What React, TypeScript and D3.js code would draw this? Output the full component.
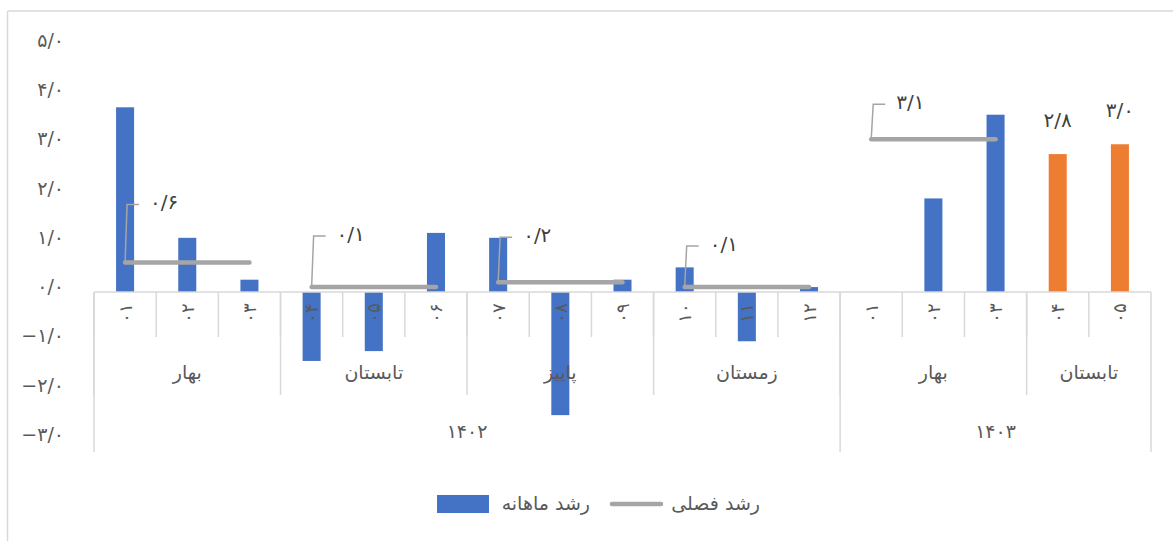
import * as d3 from 'd3';

// monthly growth (percent), one bar per month
const MONTHS = ['۰۱', '۰۲', '۰۳', '۰۴', '۰۵', '۰۶', '۰۷', '۰۸', '۰۹', '۱۰', '۱۱', '۱۲', '۰۱', '۰۲', '۰۳', '۰۴', '۰۵'];
const MONTHLY = [3.75, 1.1, 0.25, -1.4, -1.2, 1.2, 1.1, -2.5, 0.25, 0.5, -1.0, 0.1, 0, 1.9, 3.6, 2.8, 3.0];
// months that are highlighted (orange) and labelled
const HIGHLIGHT = [15, 16];

// seasons: name, number of months, seasonal growth (null = no line)
const SEASONS = ['بهار', 'تابستان', 'پاییز', 'زمستان', 'بهار', 'تابستان'];
const SEASON_MONTHS = [3, 3, 3, 3, 3, 2];
const SEASONAL = [0.6, 0.1, 0.2, 0.1, 3.1, null];

const YEARS = ['۱۴۰۲', '۱۴۰۳'];
const YEAR_MONTHS = [12, 5];

const Y_TICKS = [5, 4, 3, 2, 1, 0, -1, -2, -3];

const BLUE = '#4472C4';
const ORANGE = '#ED7D31';
const GRAY = '#A5A5A5';
const AXIS = '#D9D9D9';
const TEXT = '#595959';
const FONT = '"DejaVu Sans", sans-serif';

// how far the seasonal label callouts are lifted above the line (px)
const LABEL_LIFT = [58, 51, 45, 41, 35];

const W = 1173;
const H = 541;

const fa = (v: number) => {
  const s = d3.format('.1f')(Math.abs(v)).replace('.', '/');
  const digits = s.replace(/[0-9]/g, (c) => '۰۱۲۳۴۵۶۷۸۹'[+c]);
  return (v < 0 ? '−' : '') + digits;
};

export default function App() {
  const x = d3
    .scaleBand<number>()
    .domain(MONTHS.map((_, i) => i))
    .range([94, 1151])
    .padding(0);
  const y = d3.scaleLinear().domain([-3, 5]).range([439.75, 45.75]);
  const step = x.step();
  const barW = step * 0.29;
  const cx = (i: number) => (x(i) as number) + step / 2;
  const y0 = y(0);

  // season / year start indices
  const seasonStart = SEASON_MONTHS.map((_, i) => d3.sum(SEASON_MONTHS.slice(0, i)));
  const yearStart = YEAR_MONTHS.map((_, i) => d3.sum(YEAR_MONTHS.slice(0, i)));

  const axisRow1 = y0 + 45;
  const axisRow2 = y0 + 103;
  const axisRow3 = y0 + 160;
  const xEnd = x.range()[1];

  return (
    <div style={{ position: 'absolute', left: 0, top: 0 }}>
      <svg width={W} height={H} style={{ display: 'block', background: '#fff' }} fontFamily={FONT}>
        {/* chart frame */}
        <line x1={7.5} y1={11} x2={7.5} y2={H} stroke={AXIS} strokeWidth={1.5} />
        <line x1={7.5} y1={11} x2={W} y2={11} stroke={AXIS} strokeWidth={1.5} />

        {/* y tick labels */}
        {Y_TICKS.map((t) => (
          <text
            key={t}
            x={64}
            y={y(t) - 6}
            textAnchor="end"
            dominantBaseline="central"
            fontSize={19}
            fill={TEXT}
            direction="ltr"
          >
            {fa(t)}
          </text>
        ))}

        {/* bars */}
        {MONTHLY.map((v, i) => (
          <rect
            key={i}
            x={cx(i) - barW / 2}
            y={Math.min(y(v), y0)}
            width={barW}
            height={Math.abs(y(v) - y0)}
            fill={HIGHLIGHT.includes(i) ? ORANGE : BLUE}
          />
        ))}

        {/* labels on highlighted bars */}
        {HIGHLIGHT.map((i) => (
          <text
            key={i}
            x={cx(i)}
            y={y(MONTHLY[i]) - 27}
            textAnchor="middle"
            fontSize={20}
            fill="#404040"
            direction="ltr"
          >
            {fa(MONTHLY[i])}
          </text>
        ))}

        {/* category axis */}
        <line x1={x(0)} x2={xEnd} y1={y0} y2={y0} stroke={AXIS} strokeWidth={1.5} />
        {MONTHS.map((m, i) => (
          <g key={i}>
            <line x1={x(i)} x2={x(i)} y1={y0} y2={axisRow1} stroke={AXIS} strokeWidth={1.5} />
            <text
              transform={`translate(${cx(i)},${y0 + 21}) rotate(-90)`}
              textAnchor="middle"
              dominantBaseline="central"
              fontSize={18}
              fill={TEXT}
              direction="ltr"
            >
              {m}
            </text>
          </g>
        ))}
        {SEASONS.map((s, k) => {
          const a = seasonStart[k];
          const b = a + SEASON_MONTHS[k];
          const left = x(a) as number;
          const right = b >= MONTHS.length ? xEnd : (x(b) as number);
          return (
            <g key={k}>
              <line x1={left} x2={left} y1={y0} y2={axisRow2} stroke={AXIS} strokeWidth={1.5} />
              <text x={(left + right) / 2} y={y0 + 87} textAnchor="middle" fontSize={19} fill={TEXT}>
                {s}
              </text>
            </g>
          );
        })}
        {YEARS.map((yr, k) => {
          const a = yearStart[k];
          const b = a + YEAR_MONTHS[k];
          const left = x(a) as number;
          const right = b >= MONTHS.length ? xEnd : (x(b) as number);
          return (
            <g key={k}>
              <line x1={left} x2={left} y1={y0} y2={axisRow3} stroke={AXIS} strokeWidth={1.5} />
              <text x={(left + right) / 2} y={y0 + 146} textAnchor="middle" fontSize={19} fill={TEXT}>
                {yr}
              </text>
            </g>
          );
        })}
        <line x1={xEnd} x2={xEnd} y1={y0} y2={axisRow3} stroke={AXIS} strokeWidth={1.5} />

        {/* seasonal growth segments with callout labels */}
        {SEASONAL.map((v, k) => {
          if (v === null) return null;
          const a = seasonStart[k];
          const idx = d3.range(a, a + SEASON_MONTHS[k]);
          const path = d3
            .line<number>()
            .x((d) => cx(d))
            .y(() => y(v))(idx);
          const sx = cx(a);
          const sy = y(v);
          const ty = sy - LABEL_LIFT[k];
          return (
            <g key={k}>
              <path d={path || ''} stroke={GRAY} strokeWidth={4.5} fill="none" strokeLinecap="round" />
              <polyline
                points={`${sx},${sy} ${sx + 2},${ty} ${sx + 14},${ty}`}
                fill="none"
                stroke={GRAY}
                strokeWidth={1.5}
              />
              <text
                x={sx + 25}
                y={ty - 2}
                dominantBaseline="central"
                fontSize={20}
                fill="#404040"
                direction="ltr"
              >
                {fa(v)}
              </text>
            </g>
          );
        })}

        {/* legend */}
        <rect x={437} y={495} width={52} height={18} fill={BLUE} />
        <text x={590} y={503} textAnchor="end" dominantBaseline="central" fontSize={19} fill={TEXT}>
          رشد ماهانه
        </text>
        <line x1={612} x2={661} y1={504} y2={504} stroke={GRAY} strokeWidth={4.5} strokeLinecap="round" />
        <text x={760} y={503} textAnchor="end" dominantBaseline="central" fontSize={19} fill={TEXT}>
          رشد فصلی
        </text>
      </svg>
    </div>
  );
}
